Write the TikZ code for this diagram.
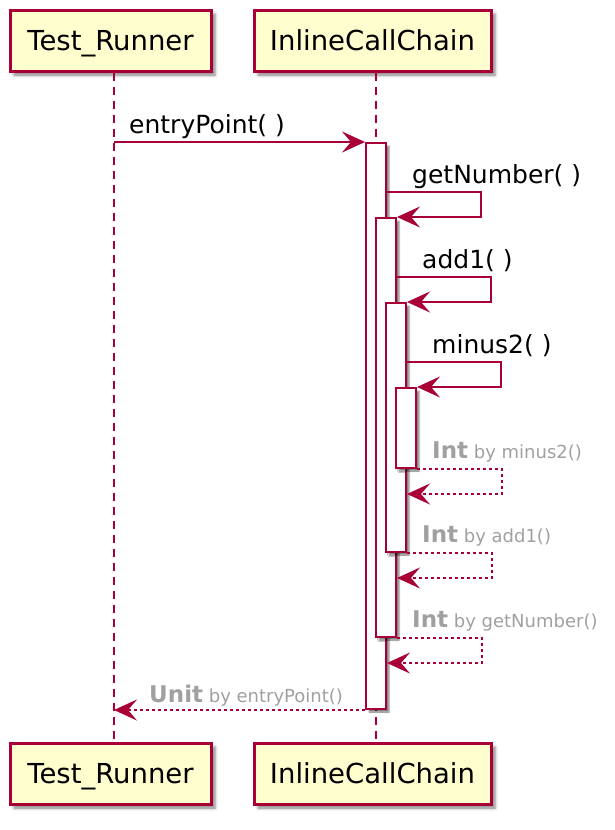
\documentclass[tikz,border=0pt]{standalone}
\usepackage{fontspec}
\setmainfont{DejaVu Sans}
\usetikzlibrary{arrows.meta,shadows,shadows.blur,positioning}
\definecolor{umlred}{HTML}{A80036}
\definecolor{umlfill}{HTML}{FEFECE}
\definecolor{retgray}{HTML}{A0A0A0}

\begin{document}
\begin{tikzpicture}[x=1pt,y=-1pt,
    party/.style={draw=umlred,line width=3pt,fill=umlfill,minimum height=61pt,inner sep=0pt,
        font=\fontsize{27.5}{33}\selectfont,text depth=0pt,
        blur shadow={shadow xshift=4pt,shadow yshift=-4pt,shadow blur radius=3pt,shadow opacity=50}},
    actbar/.style={draw=umlred,line width=2pt,fill=white,minimum width=20pt,inner sep=0pt,
        blur shadow={shadow xshift=3pt,shadow yshift=-3pt,shadow blur radius=1.5pt,shadow opacity=50}},
    lifeline/.style={draw=umlred,line width=1.6pt,dash pattern=on 8pt off 6pt},
    call/.style={draw=umlred,line width=2pt,-{Stealth[length=23pt,width=21pt,inset=9pt]}},
    ret/.style={call,dash pattern=on 3pt off 3pt},
    msg/.style={font=\fontsize{25}{30}\selectfont,inner sep=0pt,anchor=base west},
    retmsg/.style={text=retgray,font=\fontsize{18}{22}\selectfont,inner sep=0pt,anchor=base west}]
    \useasboundingbox (0,0) rectangle (614,830);

    \node[party,minimum width=201pt] (tr) at (110.5,40.5) {Test\_Runner};
    \node[party,minimum width=237pt] (icc) at (372.5,40.5) {InlineCallChain};
    \node[party,minimum width=201pt] (trb) at (110.5,773.5) {Test\_Runner};
    \node[party,minimum width=237pt] (iccb) at (372.5,773.5) {InlineCallChain};

    \coordinate (trl) at ([xshift=3.5pt]tr.south);
    \coordinate (iccl) at ([xshift=3.5pt]icc.south);
    \draw[lifeline] (trl) -- ([xshift=3.5pt]trb.north);
    \draw[lifeline] (iccl) -- ([xshift=3.5pt]iccb.north);

    \foreach \k/\t/\b in {0/143/709,1/218/637,2/303/552,3/388/468}
    {
        \node[actbar,minimum height={(\b-\t)*1pt}] (act\k) at ({376+10*\k},{(\t+\b)/2}) {};
    }

    \draw[call] (trl |- act0.north west) -- (act0.north west);
    \node[msg] (lentry) at ([xshift=15pt,yshift=9pt]trl |- act0.north) {entryPoint(\ )};

    \foreach \k/\y/\w/\lbl in {0/192/481/getNumber,1/277/491/add1,2/362/501/minus2}
    {
        \pgfmathtruncatemacro{\n}{\k+1}
        \coordinate (c\k) at (act\k.east |- 0,\y);
        \draw[call] (c\k) -- (\w,\y) |- (act\n.north east);
        \node[msg] (l\lbl) at ([xshift=25pt,yshift=9pt]c\k) {\lbl(\ )};
    }

    \foreach \k/\m/\lbl in {3/2/minus2,2/1/add1,1/0/getNumber}
    {
        \coordinate (r\k) at ([yshift=-25pt]act\k.south east);
        \draw[ret] (act\k.south east) -- ++(85,0) |- (act\m.east |- r\k);
        \node[retmsg] (i\lbl) at ([xshift=15pt,yshift=11pt]act\k.south east) {{\fontsize{23}{27}\selectfont\bfseries Int} by \lbl()};
    }

    \draw[ret] (act0.south west) -- (trl |- act0.south west);
    \node[retmsg] (iunit) at ([xshift=35pt,yshift=8pt]trl |- act0.south) {{\fontsize{23}{27}\selectfont\bfseries Unit} by entryPoint()};
\end{tikzpicture}
\end{document}
